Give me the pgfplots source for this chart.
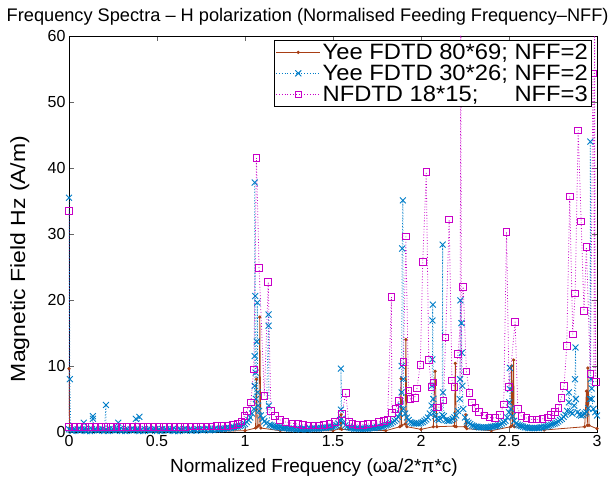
\documentclass[border=0pt]{standalone}
\usepackage{pgfplots}
\pgfplotsset{compat=1.18}
\usepackage{fontspec}
\setmainfont{Liberation Sans}
\definecolor{cBrown}{RGB}{168,62,20}
\definecolor{cBlue}{RGB}{0,125,200}
\definecolor{cMag}{RGB}{200,0,200}
\begin{document}
\begin{tikzpicture}
\path[use as bounding box] (-69pt,-49pt) rectangle (547pt,432pt);
\begin{axis}[
  at={(0pt,0pt)}, anchor=south west,
  scale only axis, width=528pt, height=396pt,
  xmin=0, xmax=3, ymin=0, ymax=60,
  xtick={0,0.5,1,1.5,2,2.5,3},
  ytick={0,10,20,30,40,50,60},
  tick align=inside, major tick length=5pt,
  axis line style={line width=0.8pt},
  every tick/.style={black!60, line width=0.6pt},
  /pgf/number format/assume math mode=true,
  tick label style={font=\fontsize{16}{18}\selectfont},
  title={Frequency Spectra – H polarization (Normalised Feeding Frequency–NFF)},
  title style={font=\fontsize{18.2}{20}\selectfont, at={(axis description cs:0.452,1.022)}, anchor=base},
  xlabel={Normalized Frequency (ωa/2*π*c)},
  ylabel={Magnetic Field Hz (A/m)},
  xlabel style={font=\fontsize{19}{21}\selectfont, at={(axis description cs:0.464,-0.1035)}, anchor=base},
  ylabel style={font=\addfontfeatures{FakeStretch=1.12}\fontsize{20.5}{22}\selectfont, at={(axis description cs:-0.0833,0.437)}, anchor=base},
  legend style={at={(0.99,0.99)}, anchor=north east, draw=black, line width=0.8pt,
    font=\addfontfeatures{FakeStretch=1.07}\fontsize{22.2}{23}\selectfont, inner sep=1.5pt, row sep=0pt},
  legend cell align=left,
  legend image code/.code={\draw[mark repeat=2,mark phase=2,#1] plot coordinates {(0pt,0pt) (22pt,0pt) (44pt,0pt)};},
]
% Yee FDTD 80*69
\addplot[cBrown, line width=0.8pt, mark=*, mark size=1.2pt] coordinates {
(0,9.6) (0.003,0.2) (0.2,0.1) (0.5,0.1) (0.8,0.1) (1.0,0.2) (1.06,0.6) (1.065,8.0)
(1.07,0.8) (1.08,1.0) (1.084,17.4) (1.09,0.6) (1.2,0.2) (1.5,0.2) (1.54,0.5)
(1.546,2.6) (1.55,0.4) (1.8,0.2) (1.88,0.8) (1.887,8.1) (1.89,1.0) (1.91,1.2)
(1.914,14.0) (1.92,0.8) (2.0,0.4) (2.07,0.8) (2.08,9.2) (2.09,0.8) (2.19,0.9)
(2.195,10.4) (2.2,0.8) (2.25,0.8) (2.255,2.6) (2.26,0.5) (2.4,0.2) (2.51,0.8)
(2.515,10.0) (2.52,1.0) (2.526,10.9) (2.53,0.8) (2.7,0.3) (2.93,0.8) (2.94,6.2)
(2.945,1.0) (2.948,9.7) (2.955,1.0) (3,0.5)
};
\addlegendentry{Yee FDTD 80*69; NFF=2}
% Yee FDTD 30*26
\addplot[cBlue, dotted, line width=0.8pt, mark=x, mark size=4.2pt,
  mark options={solid, line width=0.9pt}] coordinates {
(0,0.4) (0,35.5) (0.005,8)
(0.01,0.3) (0.02,0.15) (0.03,0.45) (0.04,0.25) (0.05,0.4) (0.06,0.2) (0.07,0.35) (0.08,0.3) (0.084,1.4) (0.09,0.45) (0.1,0.15)
(0.11,0.3) (0.12,0.15) (0.13,0.45) (0.136,2.4) (0.136,2.0) (0.14,0.25) (0.15,0.4) (0.16,0.2) (0.17,0.35) (0.18,0.3) (0.19,0.45) (0.2,0.15)
(0.21,4.1) (0.21,0.3) (0.22,0.15) (0.23,0.45) (0.24,0.25) (0.25,0.4) (0.26,0.2) (0.27,0.35) (0.28,1.4) (0.28,0.3) (0.29,0.45) (0.3,0.15)
(0.31,0.3) (0.32,0.15) (0.33,0.45) (0.34,0.25) (0.35,0.4) (0.36,0.2) (0.37,0.35) (0.38,2.0) (0.38,0.3) (0.39,0.45) (0.4,2.3) (0.4,0.15)
(0.41,0.3) (0.42,0.15) (0.43,0.45) (0.44,0.25) (0.45,0.4) (0.46,0.2) (0.47,0.35) (0.48,0.3) (0.49,0.45) (0.5,0.15)
(0.51,0.3) (0.52,0.15) (0.53,0.45) (0.54,0.25) (0.55,0.4) (0.56,0.2) (0.57,0.35) (0.58,0.3) (0.59,0.45) (0.6,0.15)
(0.61,0.3) (0.62,0.15) (0.63,0.45) (0.64,0.25) (0.65,0.4) (0.66,0.2) (0.67,0.35) (0.68,0.3) (0.69,0.45) (0.7,0.2)
(0.71,0.3) (0.72,0.2) (0.73,0.45) (0.74,0.3) (0.75,0.4) (0.76,0.25) (0.77,0.4) (0.78,0.3) (0.79,0.5) (0.8,0.25)
(0.81,0.35) (0.82,0.3) (0.83,0.5) (0.84,0.35) (0.85,0.45) (0.86,0.4) (0.87,0.5) (0.88,0.45) (0.89,0.55) (0.9,0.5)
(0.91,0.6) (0.92,0.6) (0.93,0.7) (0.94,0.7) (0.95,0.8) (0.96,0.8) (0.97,0.9) (0.98,1.0) (0.99,1.1)
(1.0,1.2) (1.01,1.5) (1.02,1.8) (1.03,2.2) (1.04,2.8) (1.05,3.5) (1.055,7)
(1.055,11.5) (1.055,37.8) (1.058,20.6) (1.06,9) (1.062,5) (1.067,13.7) (1.07,19.6)
(1.072,6) (1.075,4) (1.08,3.2) (1.09,2.5) (1.1,2.0) (1.11,1.6) (1.12,1.3)
(1.134,17.8) (1.134,16.1) (1.136,4) (1.14,1.1) (1.15,1.0) (1.16,0.9) (1.17,0.8) (1.18,0.8) (1.19,0.7) (1.2,0.7)
(1.21,0.6) (1.22,0.6) (1.23,0.6) (1.24,0.6) (1.25,0.5) (1.26,0.5) (1.27,0.5) (1.28,0.5) (1.29,0.4) (1.3,0.5)
(1.31,0.4) (1.32,0.4) (1.33,0.5) (1.34,0.5) (1.35,0.4) (1.36,0.4) (1.37,0.5) (1.38,0.5) (1.39,0.5) (1.4,0.5)
(1.41,0.5) (1.42,0.5) (1.43,0.6) (1.44,0.6) (1.45,0.6) (1.46,0.6) (1.47,0.7) (1.48,0.7)
(1.49,0.8) (1.5,0.8) (1.51,0.9) (1.52,1.0) (1.53,1.3) (1.54,1.8) (1.545,3.4) (1.545,9.6) (1.55,2.0)
(1.56,1.4) (1.57,1.0) (1.58,0.8) (1.59,0.7) (1.6,0.6) (1.61,0.6) (1.62,0.5) (1.63,0.5) (1.64,0.5) (1.65,0.5) (1.66,0.5)
(1.67,0.5) (1.68,0.5) (1.69,0.5) (1.7,0.5) (1.71,0.6) (1.72,0.6) (1.73,0.6) (1.74,0.6) (1.75,0.7) (1.76,0.7) (1.77,0.8) (1.78,0.8)
(1.79,0.9) (1.8,1.0) (1.81,1.1)
(1.82,1.2) (1.83,1.3) (1.84,1.5) (1.85,1.7) (1.86,1.9) (1.87,2.3) (1.88,2.8) (1.885,4) (1.89,6)
(1.89,10) (1.893,27.8) (1.897,35.1) (1.9,8) (1.9,3.5) (1.91,2.8) (1.92,2.2)
(1.93,1.8) (1.94,1.5) (1.95,1.4) (1.96,1.3) (1.97,1.3) (1.98,1.3) (1.99,1.3) (2.0,1.4) (2.01,1.5) (2.02,1.7) (2.03,1.9) (2.04,2.2)
(2.05,2.8) (2.06,4) (2.062,7) (2.065,11) (2.065,16.9) (2.067,19.3) (2.07,5)
(2.075,3) (2.08,2.4) (2.09,2.0) (2.1,1.8) (2.11,2.0) (2.12,2.6) (2.123,28.4)
(2.125,6) (2.13,2.4) (2.14,1.8) (2.15,1.7) (2.16,1.7) (2.17,1.8) (2.18,2.0) (2.19,2.2) (2.2,2.5) (2.21,3.2)
(2.22,5) (2.222,8) (2.224,19.95) (2.23,16.5) (2.232,12) (2.235,7) (2.24,3.5)
(2.25,2.2) (2.26,1.6) (2.27,1.4) (2.28,1.2) (2.29,1.0) (2.3,0.9) (2.31,0.8) (2.32,0.8) (2.33,0.7) (2.34,0.7) (2.35,0.7) (2.36,0.7)
(2.37,0.7) (2.38,0.7) (2.39,0.7) (2.4,0.8) (2.41,0.8) (2.42,0.9) (2.43,0.9) (2.44,1.0) (2.45,1.1) (2.46,1.3) (2.47,1.5) (2.48,1.7) (2.49,2.2)
(2.5,3.0) (2.502,4.5) (2.505,6.5) (2.505,9.7) (2.51,3.5) (2.52,2.4) (2.53,1.7)
(2.54,1.3) (2.55,1.1) (2.56,1.0) (2.57,0.9) (2.58,0.8) (2.59,0.7) (2.6,0.7) (2.61,0.6) (2.62,0.6) (2.63,0.6) (2.64,0.6) (2.65,0.6) (2.66,0.6)
(2.67,0.6) (2.68,0.7) (2.69,0.7) (2.7,0.8) (2.71,0.8) (2.72,0.9) (2.73,1.0) (2.74,1.1) (2.75,1.2) (2.76,1.3) (2.77,1.4) (2.78,1.6) (2.79,1.8) (2.8,2.0)
(2.81,2.3) (2.82,2.6) (2.83,3.2) (2.84,4.5) (2.84,6.0) (2.85,3.0) (2.86,2.8) (2.87,4)
(2.875,8) (2.878,12.8) (2.88,5) (2.89,3.0) (2.9,2.6) (2.91,2.5) (2.92,2.6) (2.93,2.8) (2.94,3.0)
(2.95,3.6) (2.96,5) (2.962,44.0) (2.965,8) (2.97,6.6) (2.97,5.0) (2.98,3.5)
(2.99,3.0) (3.0,2.5)
};
\addlegendentry{Yee FDTD 30*26; NFF=2}
% NFDTD 18*15
\addplot[cMag, dotted, line width=0.8pt, mark=square, mark size=3.3pt,
  mark options={solid, line width=0.9pt}] coordinates {
(0,33.5) (0,0.76) (0.03,0.76) (0.06,0.76) (0.09,0.76) (0.12,0.76) (0.15,0.76)
(0.18,0.76) (0.21,0.76) (0.24,0.76) (0.27,0.76) (0.30,0.76) (0.33,0.76)
(0.36,0.76) (0.39,0.76) (0.42,0.77) (0.45,0.77) (0.48,0.77) (0.51,0.78)
(0.54,0.78) (0.57,0.79) (0.60,0.80) (0.63,0.80) (0.66,0.81) (0.69,0.82)
(0.72,0.83) (0.75,0.84) (0.78,0.85) (0.81,0.87) (0.84,0.89) (0.87,0.92)
(0.9,0.96) (0.93,1.05) (0.96,1.2) (0.98,1.6) (0.996,2.4) (1.01,3.2) (1.033,4.5)
(1.05,9.5) (1.065,41.5) (1.08,24.9) (1.11,5.5) (1.132,22.7) (1.147,3.2)
(1.17,2.4) (1.2,1.8) (1.23,1.5) (1.27,1.3) (1.3,1.2) (1.33,1.1) (1.36,1.0)
(1.39,1.0) (1.42,1.0) (1.45,1.1) (1.48,1.2) (1.51,1.5) (1.55,2.7) (1.572,5.9)
(1.59,1.5) (1.61,1.2) (1.64,1.1) (1.67,1.1) (1.7,1.2) (1.73,1.3) (1.76,1.5)
(1.79,1.7) (1.81,1.9) (1.832,20.45) (1.834,2.9) (1.855,3.5) (1.876,4.7)
(1.9,10.6) (1.914,29.6) (1.929,6.3) (1.94,5.0) (1.964,5.2) (1.977,6.6)
(1.996,10.2) (2.01,25.8) (2.03,39.4) (2.044,10.9) (2.06,6.8) (2.07,7.5)
(2.09,3.7) (2.1,3.7) (2.128,4.8) (2.14,14.3) (2.16,32.2) (2.176,7.8) (2.19,6.8)
(2.21,11.8) (2.24,22.0) (2.258,9.2) (2.275,5.9) (2.29,4.5) (2.31,3.6)
(2.33,3.0) (2.36,2.5) (2.39,2.2) (2.42,2.1) (2.45,2.6) (2.47,4.2) (2.486,30.3)
(2.50,6.8) (2.535,16.7) (2.55,3.5) (2.57,2.4) (2.6,2.1) (2.63,1.9) (2.66,1.9)
(2.69,2.0) (2.72,2.2) (2.74,2.6) (2.76,3.0) (2.78,3.6) (2.797,5.2) (2.813,7.0)
(2.828,13.0) (2.845,35.7) (2.862,14.8) (2.876,21.0) (2.893,45.7) (2.91,31.9)
(2.926,18.3) (2.94,28.0) (2.962,8.8) (2.977,54.3) (2.994,7.6)
};
\addlegendentry{\rlap{NFDTD 18*15;}\hphantom{Yee FDTD 30*26;} NFF=3}
% NFDTD lines running past the top
\addplot[cMag, dotted, line width=0.8pt, forget plot] coordinates {
(2.222,6) (2.226,66) (2.23,6)
};
\addplot[cMag, dotted, line width=0.8pt, forget plot] coordinates {
(2.982,8) (2.986,66) (2.99,8)
};
\end{axis}
\end{tikzpicture}
\end{document}
